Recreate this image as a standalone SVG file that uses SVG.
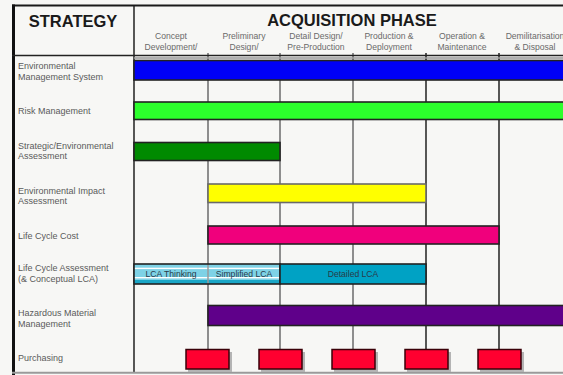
<svg xmlns="http://www.w3.org/2000/svg" width="563" height="375" viewBox="0 0 563 375">
  <style>
    .title { font-family: "Liberation Sans", Arial, sans-serif; font-size: 16.5px; font-weight: bold; fill: #1a1a1a; text-anchor: middle; }
    .phase { font-family: "Liberation Sans", Arial, sans-serif; font-size: 8.6px; fill: #6a6a6a; text-anchor: middle; }
    .label { font-family: "Liberation Sans", Arial, sans-serif; font-size: 9px; fill: #5a5a5a; }
    .inbar { font-family: "Liberation Sans", Arial, sans-serif; font-size: 8.6px; fill: #2a3a48; text-anchor: middle; }
    .bar { stroke: #222; stroke-width: 1.6; }
    .grid-soft { stroke: #8e8e8e; stroke-width: 2; }
    .grid-hard { stroke: #2e2e2e; stroke-width: 1.6; }
    .buy { fill: #ff0030; stroke: #3a0008; stroke-width: 1.5; }
    .buy-shadow { fill: #b4b4b4; }
  </style>

  <!-- page -->
  <rect width="563" height="375" fill="#f7f7f5"/>

  <!-- frame and grid -->
  <g id="grid">
    <line x1="208" y1="53" x2="208" y2="373" class="grid-soft"/>
    <line x1="280" y1="53" x2="280" y2="373" class="grid-soft"/>
    <line x1="353" y1="53" x2="353" y2="373" class="grid-soft"/>
    <line x1="426" y1="53" x2="426" y2="373" class="grid-hard"/>
    <line x1="499" y1="53" x2="499" y2="373" class="grid-hard"/>
    <line x1="134" y1="5" x2="134" y2="373" class="grid-hard"/>
    <line x1="12" y1="5.5" x2="563" y2="5.5" stroke="#1a1a1a" stroke-width="2"/>
    <line x1="13.5" y1="4.5" x2="13.5" y2="375" stroke="#111" stroke-width="3"/>
    <line x1="12" y1="55.5" x2="563" y2="55.5" stroke="#222" stroke-width="1.6"/>
    <line x1="134" y1="58" x2="563" y2="58" stroke="#999" stroke-width="1.5"/>
    <line x1="12" y1="372.8" x2="563" y2="372.8" stroke="#9a9a9a" stroke-width="2"/>
  </g>

  <!-- headings -->
  <g id="header">
    <text x="73" y="26.5" class="title">STRATEGY</text>
    <text x="352" y="26" class="title">ACQUISITION PHASE</text>
    <text x="171" y="39" class="phase">Concept</text>
    <text x="171" y="50" class="phase">Development/</text>
    <text x="244" y="39" class="phase">Preliminary</text>
    <text x="244" y="50" class="phase">Design/</text>
    <text x="316" y="39" class="phase">Detail Design/</text>
    <text x="316" y="50" class="phase">Pre-Production</text>
    <text x="389" y="39" class="phase">Production &amp;</text>
    <text x="389" y="50" class="phase">Deployment</text>
    <text x="462" y="39" class="phase">Operation &amp;</text>
    <text x="462" y="50" class="phase">Maintenance</text>
    <text x="535" y="39" class="phase">Demilitarisation</text>
    <text x="535" y="50" class="phase">&amp; Disposal</text>
  </g>

  <g id="ems">
    <text x="18" y="69" class="label">Environmental</text>
    <text x="18" y="79.5" class="label">Management System</text>
    <rect x="134" y="60.5" width="440" height="19.5" fill="#0000f6" class="bar"/>
  </g>

  <g id="risk">
    <text x="18" y="114" class="label">Risk Management</text>
    <rect x="134" y="102" width="440" height="17.5" fill="#2cff2c" class="bar"/>
  </g>

  <g id="sea">
    <text x="18" y="148.5" class="label">Strategic/Environmental</text>
    <text x="18" y="159" class="label">Assessment</text>
    <rect x="134" y="142.5" width="146" height="18" fill="#008a00" class="bar"/>
  </g>

  <g id="eia">
    <text x="18" y="193.5" class="label">Environmental Impact</text>
    <text x="18" y="204" class="label">Assessment</text>
    <rect x="208" y="184" width="218" height="18.5" fill="#ffff00" stroke="#6a6a6a" stroke-width="1.6"/>
  </g>

  <g id="lcc">
    <text x="18" y="239" class="label">Life Cycle Cost</text>
    <rect x="208" y="226" width="291" height="18" fill="#f0007c" class="bar"/>
  </g>

  <g id="lca">
    <text x="18" y="271" class="label">Life Cycle Assessment</text>
    <text x="18" y="281.5" class="label">(&amp; Conceptual LCA)</text>
    <!-- striped early phases -->
    <rect x="134" y="264" width="146" height="20" fill="#7ed2e6"/>
    <rect x="134" y="267.7" width="146" height="1.4" fill="#ffffff"/>
    <rect x="134" y="277" width="146" height="1.4" fill="#ffffff"/>
    <rect x="134" y="280" width="146" height="4" fill="#1aa6c6"/>
    <line x1="208" y1="264" x2="208" y2="284" stroke="#9a9a9a" stroke-width="1.5"/>
    <rect x="134" y="264" width="146" height="20" fill="none" class="bar"/>
    <rect x="280" y="264" width="146" height="20" fill="#00a2c4" class="bar"/>
    <text x="171" y="276.5" class="inbar">LCA Thinking</text>
    <text x="244" y="276.5" class="inbar">Simplified LCA</text>
    <text x="353" y="277" class="inbar">Detailed LCA</text>
  </g>

  <g id="hazmat">
    <text x="18" y="316" class="label">Hazardous Material</text>
    <text x="18" y="327" class="label">Management</text>
    <rect x="208" y="305.5" width="366" height="20" fill="#5f008a" class="bar"/>
  </g>

  <g id="purchasing">
    <text x="18" y="361" class="label">Purchasing</text>
    <rect x="188" y="352" width="44" height="20" class="buy-shadow"/>
    <rect x="186" y="349.5" width="43" height="19.5" class="buy"/>
    <rect x="261" y="352" width="44" height="20" class="buy-shadow"/>
    <rect x="259" y="349.5" width="43" height="19.5" class="buy"/>
    <rect x="334" y="352" width="44" height="20" class="buy-shadow"/>
    <rect x="332" y="349.5" width="43" height="19.5" class="buy"/>
    <rect x="407" y="352" width="44" height="20" class="buy-shadow"/>
    <rect x="405" y="349.5" width="43" height="19.5" class="buy"/>
    <rect x="480" y="352" width="44" height="20" class="buy-shadow"/>
    <rect x="478" y="349.5" width="43" height="19.5" class="buy"/>
  </g>
</svg>
